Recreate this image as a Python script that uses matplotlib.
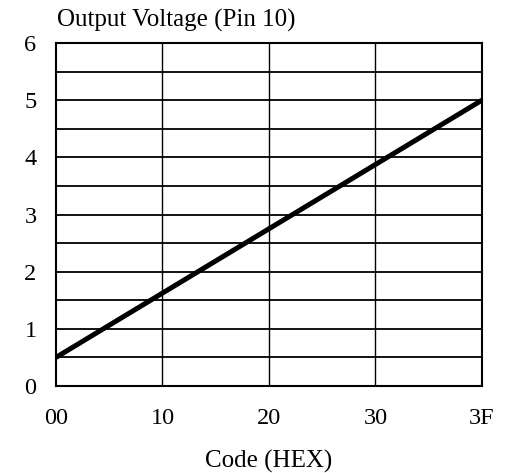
import numpy as np
import matplotlib
matplotlib.use('Agg')
import matplotlib.pyplot as plt

# codes (hex) and output voltage
codes = [0x00, 0x3F]
volts = [0.5, 5.0]

x_ticks = [0x00, 0x10, 0x20, 0x30, 0x3F]
x_labels = ['00', '10', '20', '30', '3F']
y_ticks = [0, 1, 2, 3, 4, 5, 6]
y_grid = np.arange(0.5, 6.0, 0.5)

plt.rcParams['font.family'] = ['Liberation Serif', 'DejaVu Serif']

fig = plt.figure(figsize=(5.16, 4.73), dpi=100)
ax = fig.add_axes([0.1085, 0.184, 0.8255, 0.725])

# equal spacing between the labelled codes
pos = np.arange(len(x_ticks))
fwd = lambda x: np.interp(x, x_ticks, pos)
inv = lambda p: np.interp(p, pos, x_ticks)
ax.set_xscale('function', functions=(fwd, inv))

for yv in y_grid:
    ax.axhline(yv, color='black', lw=1.3, zorder=1)
for xv in x_ticks[1:-1]:
    ax.axvline(xv, color='black', lw=1.0, zorder=1)

ax.plot(codes, volts, color='black', lw=3.6, solid_capstyle='butt', zorder=3)

ax.set_xlim(x_ticks[0], x_ticks[-1])
ax.set_ylim(0, 6)
ax.set_xticks(x_ticks)
ax.set_xticklabels(x_labels)
ax.set_yticks(y_ticks)
ax.tick_params(axis='both', length=0, labelsize=17.5)
ax.tick_params(axis='x', pad=16)
ax.tick_params(axis='y', pad=14)

for s in ax.spines.values():
    s.set_linewidth(1.5)
    s.set_color('black')

fig.text(0.110, 0.933, 'Output Voltage (Pin 10)', fontsize=18, ha='left', va='bottom')
ax.set_xlabel('Code (HEX)', fontsize=18, labelpad=15)

fig.savefig('out.png', dpi=100)
